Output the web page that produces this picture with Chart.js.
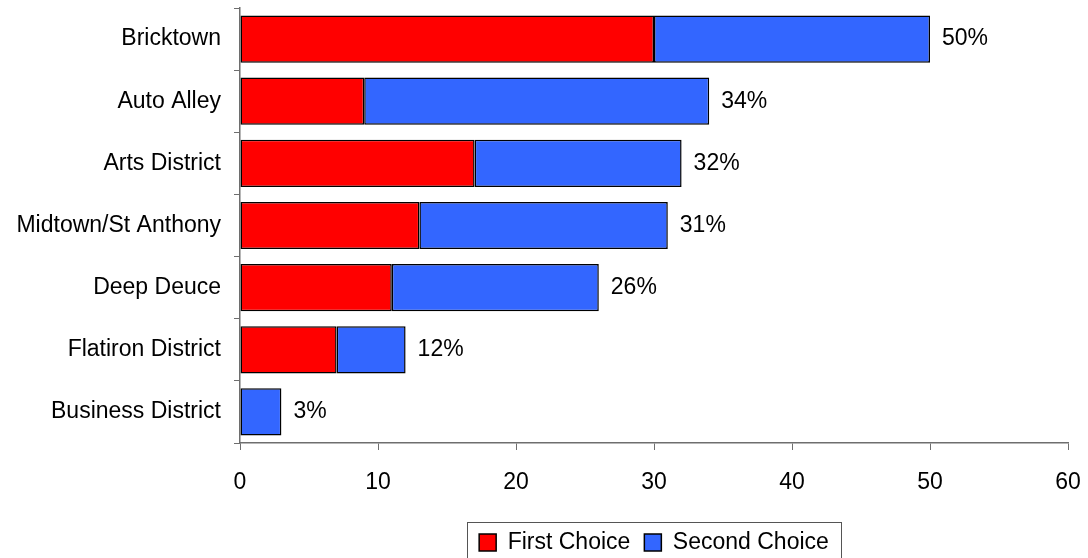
<!DOCTYPE html>
<html>
<head>
<meta charset="utf-8">
<script src="https://cdn.jsdelivr.net/npm/chart.js@4/dist/chart.umd.min.js"></script>
<style>
  html, body { margin: 0; padding: 0; background: #fff; }
  canvas { display: block; }
</style>
</head>
<body>
<canvas id="districtChart" width="1088" height="558"></canvas>
<script>
const districts = ["Bricktown", "Auto Alley", "Arts District", "Midtown/St Anthony", "Deep Deuce", "Flatiron District", "Business District"];
const firstChoice = [30, 9, 17, 13, 11, 7, 0];
const secondChoice = [20, 25, 15, 18, 15, 5, 3];
const xTicks = [0, 10, 20, 30, 40, 50, 60];

const FONT = '"Liberation Sans", Arial, sans-serif';
const FONT_SIZE = 23;
const AXIS_GREY = "#6e6e6e";

// total of both choices printed after each bar
const totalLabels = {
    id: "totalLabels",
    afterDatasetsDraw(chart) {
        const ctx = chart.ctx;
        const xScale = chart.scales.x;
        const meta = chart.getDatasetMeta(1);
        ctx.save();
        ctx.font = FONT_SIZE + "px " + FONT;
        ctx.fillStyle = "#000";
        ctx.textBaseline = "middle";
        ctx.textAlign = "left";
        meta.data.forEach(function (bar, i) {
            let total = firstChoice[i] + secondChoice[i];
            ctx.fillText(total + "%", xScale.getPixelForValue(total) + 12, bar.y);
        });
        ctx.restore();
    }
};

// thin frame round the legend entries
const legendFrame = {
    id: "legendFrame",
    afterDraw(chart) {
        const boxes = chart.legend.legendHitBoxes;
        if (!boxes || !boxes.length) return;
        let left = Math.min.apply(null, boxes.map(b => b.left));
        let right = Math.max.apply(null, boxes.map(b => b.left + b.width));
        let top = Math.min.apply(null, boxes.map(b => b.top));
        const ctx = chart.ctx;
        ctx.save();
        ctx.strokeStyle = "#555";
        ctx.lineWidth = 1;
        ctx.strokeRect(Math.round(left - 12) + 0.5, Math.round(top - 9) + 0.5, Math.round(right - left + 24), 60);
        ctx.restore();
    }
};

const ctx = document.getElementById("districtChart").getContext("2d");

new Chart(ctx, {
    type: "bar",
    data: {
        labels: districts,
        datasets: [{
            label: "First Choice",
            data: firstChoice,
            backgroundColor: "#ff0000",
            borderColor: "#000",
            borderWidth: 1.5,
            borderSkipped: false,
            categoryPercentage: 1,
            barPercentage: 0.76
        }, {
            label: "Second Choice",
            data: secondChoice,
            backgroundColor: "#3366ff",
            borderColor: "#000",
            borderWidth: 1.5,
            borderSkipped: false,
            categoryPercentage: 1,
            barPercentage: 0.76
        }]
    },
    options: {
        indexAxis: "y",
        responsive: false,
        animation: false,
        devicePixelRatio: 1,
        layout: {
            padding: { top: 8, right: 20, bottom: -6, left: 0 }
        },
        scales: {
            x: {
                stacked: true,
                min: 0,
                max: 60,
                afterBuildTicks(axis) {
                    axis.ticks = xTicks.map(v => ({ value: v }));
                },
                afterFit(axis) {
                    axis.paddingLeft = 0;
                    axis.paddingRight = 0;
                    axis.height = 74;
                },
                grid: {
                    drawOnChartArea: false,
                    drawTicks: true,
                    tickLength: 7,
                    color: AXIS_GREY
                },
                border: { display: true, color: AXIS_GREY, width: 1.5 },
                ticks: {
                    color: "#000",
                    font: { family: FONT, size: FONT_SIZE },
                    padding: 19,
                    maxRotation: 0
                }
            },
            y: {
                stacked: true,
                afterFit(axis) {
                    axis.width = 240;
                    axis.paddingTop = 0;
                    axis.paddingBottom = 0;
                },
                grid: {
                    drawOnChartArea: false,
                    drawTicks: true,
                    tickLength: 6,
                    offset: true,
                    color: AXIS_GREY
                },
                border: { display: true, color: AXIS_GREY, width: 1.5 },
                ticks: {
                    color: "#000",
                    font: { family: FONT, size: FONT_SIZE },
                    padding: 13
                }
            }
        },
        plugins: {
            legend: {
                position: "bottom",
                fullSize: false,
                labels: {
                    color: "#000",
                    font: { family: FONT, size: FONT_SIZE },
                    boxWidth: 17,
                    boxHeight: 17,
                    padding: 14
                }
            },
            tooltip: { enabled: false }
        }
    },
    plugins: [totalLabels, legendFrame]
});
</script>
</body>
</html>
